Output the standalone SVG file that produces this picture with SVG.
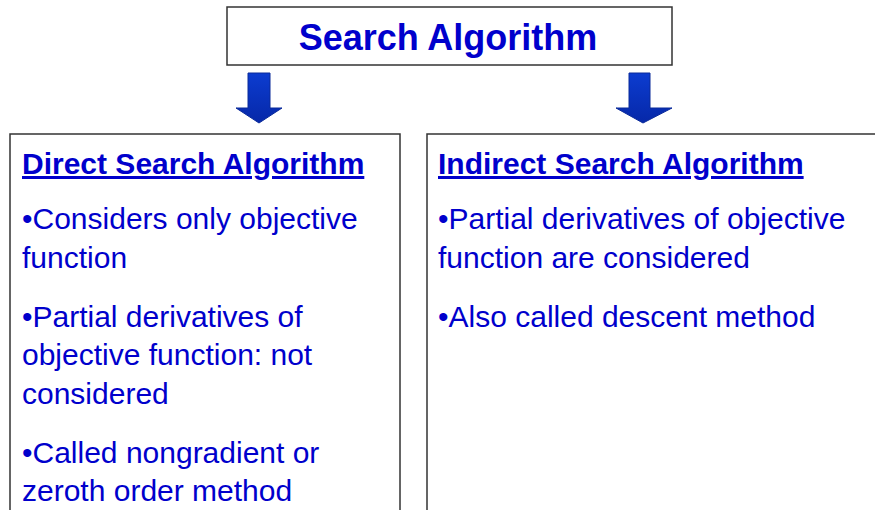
<svg xmlns="http://www.w3.org/2000/svg" width="875" height="510" viewBox="0 0 875 510">
  <style>
    .box { fill: #ffffff; stroke: #333333; stroke-width: 1.5; }
    .title { font-family: "Liberation Sans", Arial, sans-serif; font-weight: bold; font-size: 36px; fill: #0000cc; }
    .head { font-family: "Liberation Sans", Arial, sans-serif; font-weight: bold; font-size: 30px; fill: #0000cc; text-decoration: underline; }
    .body { font-family: "Liberation Sans", Arial, sans-serif; font-size: 30px; fill: #0000cc; }
    .arrow { fill: url(#arrowFill); stroke: #0a2a9a; stroke-width: 1; }
  </style>
  <defs>
    <linearGradient id="arrowFill" x1="0" y1="0" x2="0" y2="1">
      <stop offset="0" stop-color="#0c3cd0"/>
      <stop offset="1" stop-color="#0628a8"/>
    </linearGradient>
  </defs>
  <rect width="875" height="510" fill="#ffffff"/>

  <g id="root">
    <rect class="box" x="227" y="7" width="445" height="58"/>
    <text class="title" x="448" y="50" text-anchor="middle">Search Algorithm</text>
  </g>

  <g id="connectors">
    <polygon class="arrow" points="248,73 270,73 270,108 282,108 259,123 236,108 248,108"/>
    <polygon class="arrow" points="629,73 650,73 650,108 672,108 643,123 616,108 629,108"/>
  </g>

  <g id="direct">
    <rect class="box" x="10" y="134" width="390" height="390"/>
    <text class="head" x="22" y="174">Direct Search Algorithm</text>
    <text class="body" x="22" y="229">•Considers only objective</text>
    <text class="body" x="22" y="268">function</text>
    <text class="body" x="22" y="327">•Partial derivatives of</text>
    <text class="body" x="22" y="365">objective function: not</text>
    <text class="body" x="22" y="404">considered</text>
    <text class="body" x="22" y="463">•Called nongradient or</text>
    <text class="body" x="22" y="501">zeroth order method</text>
  </g>

  <g id="indirect">
    <rect class="box" x="427" y="134" width="460" height="390"/>
    <text class="head" x="438" y="174">Indirect Search Algorithm</text>
    <text class="body" x="438" y="229">•Partial derivatives of objective</text>
    <text class="body" x="438" y="268">function are considered</text>
    <text class="body" x="438" y="327">•Also called descent method</text>
  </g>
</svg>
